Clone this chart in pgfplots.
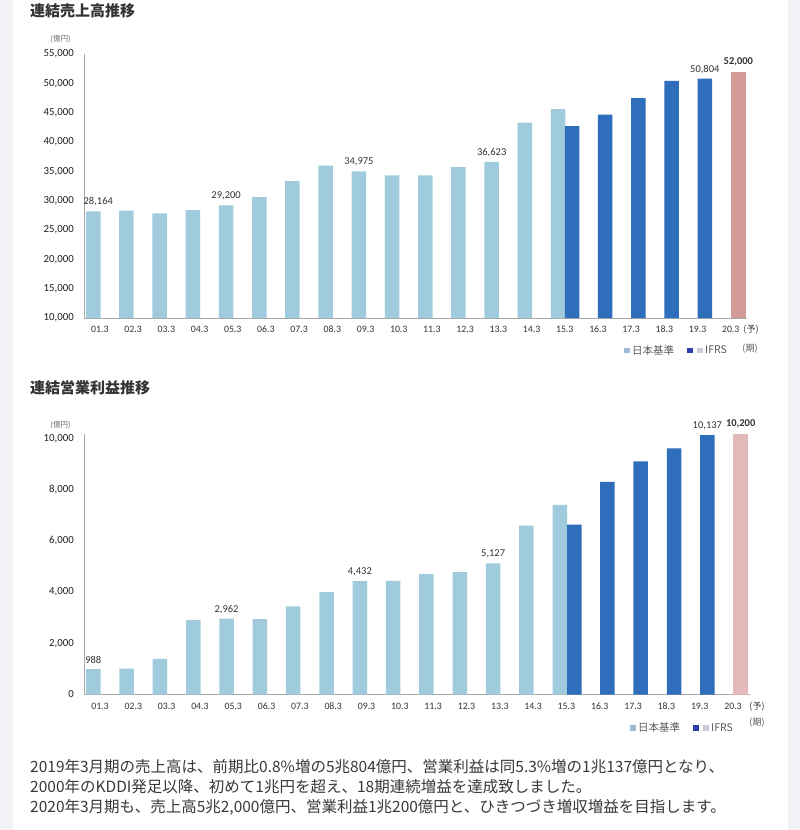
\documentclass[border=0pt]{standalone}
\usepackage{pgfplots}
\pgfplotsset{compat=1.18}
\usepackage{fontspec}
\setmainfont{Carlito}
\newfontfamily\jp{Noto Sans CJK JP}
\definecolor{jg}{HTML}{9FCBDC}
\definecolor{ifrs}{HTML}{2F6EBB}
\definecolor{fcA}{HTML}{D49A98}
\definecolor{fcB}{HTML}{E2B8B9}
\definecolor{bgg}{HTML}{F1F2F5}
\definecolor{axg}{HTML}{A8A8A8}
\definecolor{txt}{HTML}{333333}
\definecolor{lgA}{HTML}{9DB9D6}
\definecolor{lgB}{HTML}{2B3FB3}
\definecolor{lgC}{HTML}{D0C9DD}
\pgfplotsset{kddi/.style={
  scale only axis, axis lines*=left,
  axis line style={draw=axg, line width=0.9pt},
  xmin=-0.28, major tick length=0pt,
  xtick={0.2,1.2,2.2,3.2,4.2,5.2,6.2,7.2,8.2,9.2,10.2,11.2,12.2,13.2,14.2,15.2,16.2,17.2,18.2,19.2},
  xticklabels={01.3,02.3,03.3,04.3,05.3,06.3,07.3,08.3,09.3,10.3,11.3,12.3,13.3,14.3,15.3,16.3,17.3,18.3,19.3,20.3},
  xticklabel style={anchor=north, inner sep=0pt, yshift=-8pt, font=\fontsize{9.8}{11}\selectfont, text=txt},
  yticklabel style={anchor=east, inner sep=0pt, xshift=-10pt, font=\fontsize{10.8}{12}\selectfont, text=black!88},
  /pgf/number format/assume math mode=true,
  /pgf/number format/1000 sep={,},
  scaled y ticks=false,
},
barA/.style={ybar, bar width=14.5pt, bar shift=0pt, fill=jg, draw=none},
barB/.style={ybar, bar width=14.5pt, bar shift=0pt, fill=ifrs, draw=none},
lab/.style={only marks, mark=*, mark size=0pt, mark options={draw=none, fill=none},
  nodes near coords, point meta=y,
  nodes near coords style={font=\fontsize{10.5}{12}\selectfont, anchor=south, inner sep=0pt, yshift=5pt, text=txt}},
labB/.style={lab, nodes near coords style={font=\fontsize{10.5}{12}\selectfont\bfseries}},
}
\begin{document}
\begin{tikzpicture}[x=1pt, y=1pt]
\fill[bgg] (0,0) rectangle (800,-830);
\fill[white] (13,0) rectangle (788,-830);
% titles
\node[anchor=west, inner sep=0pt, text=txt] at (30,-11) {\jp\bfseries\fontsize{15}{18}\selectfont 連結売上高推移};
\node[anchor=west, inner sep=0pt, text=txt] at (30,-387.5) {\jp\bfseries\fontsize{15}{18}\selectfont 連結営業利益推移};
% unit labels
\node[inner sep=0pt, text=black!60] at (60.5,-39.3) {\jp\fontsize{7.5}{9}\selectfont (億円)};
\node[inner sep=0pt, text=black!60] at (60.5,-425) {\jp\fontsize{7.5}{9}\selectfont (億円)};
% sales chart
\begin{axis}[kddi, at={(84pt,-318pt)}, anchor=south west,
  width=663pt, height=264pt, xmax=19.69,
  ymin=10000, ymax=55000, ytick={10000,15000,20000,25000,30000,35000,40000,45000,50000,55000}]
\addplot[barA] coordinates {(0,28164) (1,28300) (2,27850) (3,28400) (4,29200) (5,30600) (6,33350) (7,35960) (8,34975) (9,34300) (10,34300) (11,35700) (12,36623) (13,43300) (14,45600)};
\addplot[barB] coordinates {(14.42,42700) (15.42,44660) (16.42,47480) (17.42,50420) (18.42,50804)};
\addplot[ybar, bar width=14.5pt, bar shift=0pt, fill=fcA, draw=none] coordinates {(19.43,52000)};
\addplot[lab] coordinates {(0.15,28164) (4,29200) (8,34975) (12,36623) (18.42,50804)};
\addplot[labB] coordinates {(19.43,52000)};
\end{axis}
\node[inner sep=0pt, text=txt] at (751,-330) {\jp\fontsize{9}{11}\selectfont (予)};
% legend top
\fill[lgA] (624,-347.5) rectangle (629.5,-353);
\node[anchor=west, inner sep=0pt, text=black!65] at (632,-350) {\jp\fontsize{10.5}{12}\selectfont 日本基準};
\fill[lgB] (687,-347.5) rectangle (692.5,-353);
\fill[lgC] (697,-347.5) rectangle (702.5,-353);
\node[anchor=west, inner sep=0pt, text=black!65] at (705,-350) {\jp\fontsize{10.5}{12}\selectfont IFRS};
\node[inner sep=0pt, text=black!65] at (750,-349) {\jp\fontsize{9}{11}\selectfont (期)};
% profit chart
\begin{axis}[kddi, at={(84pt,-694.5pt)}, anchor=south west,
  width=666pt, height=261pt, xmax=19.71, clip=false,
  ymin=0, ymax=10200, ytick={0,2000,4000,6000,8000,10000}]
\addplot[barA] coordinates {(0,988) (1,1010) (2,1390) (3,2910) (4,2962) (5,2950) (6,3440) (7,4000) (8,4432) (9,4440) (10,4700) (11,4780) (12,5127) (13,6600) (14,7410)};
\addplot[barB] coordinates {(14.44,6640) (15.43,8310) (16.43,9110) (17.43,9620) (18.43,10137)};
\addplot[ybar, bar width=14.5pt, bar shift=0pt, fill=fcB, draw=none] coordinates {(19.43,10200)};
\addplot[lab] coordinates {(0,988) (4,2962) (8,4432) (12,5127) (18.43,10137)};
\addplot[labB] coordinates {(19.43,10200)};
\end{axis}
\node[inner sep=0pt, text=txt] at (757,-706.7) {\jp\fontsize{9}{11}\selectfont (予)};
% legend bottom
\fill[lgA] (630,-725) rectangle (635.5,-730.5);
\node[anchor=west, inner sep=0pt, text=black!65] at (638,-727.5) {\jp\fontsize{10.5}{12}\selectfont 日本基準};
\fill[lgB] (693,-725) rectangle (698.5,-730.5);
\fill[lgC] (703,-725) rectangle (708.5,-730.5);
\node[anchor=west, inner sep=0pt, text=black!65] at (711,-727.5) {\jp\fontsize{10.5}{12}\selectfont IFRS};
\node[inner sep=0pt, text=black!65] at (757,-723) {\jp\fontsize{9}{11}\selectfont (期)};
% paragraph
\node[anchor=base west, inner sep=0pt, text=black!78] at (30,-772) {\jp\fontsize{15.5}{18}\selectfont 2019年3月期の売上高は、前期比0.8\%増の5兆804億円、営業利益は同5.3\%増の1兆137億円となり、};
\node[anchor=base west, inner sep=0pt, text=black!78] at (30,-792) {\jp\fontsize{15.5}{18}\selectfont 2000年のKDDI発足以降、初めて1兆円を超え、18期連続増益を達成致しました。};
\node[anchor=base west, inner sep=0pt, text=black!78] at (30,-812) {\jp\fontsize{15.5}{18}\selectfont 2020年3月期も、売上高5兆2,000億円、営業利益1兆200億円と、ひきつづき増収増益を目指します。};
\pgfresetboundingbox
\path (0,0) rectangle (800,-830);
\end{tikzpicture}
\end{document}
